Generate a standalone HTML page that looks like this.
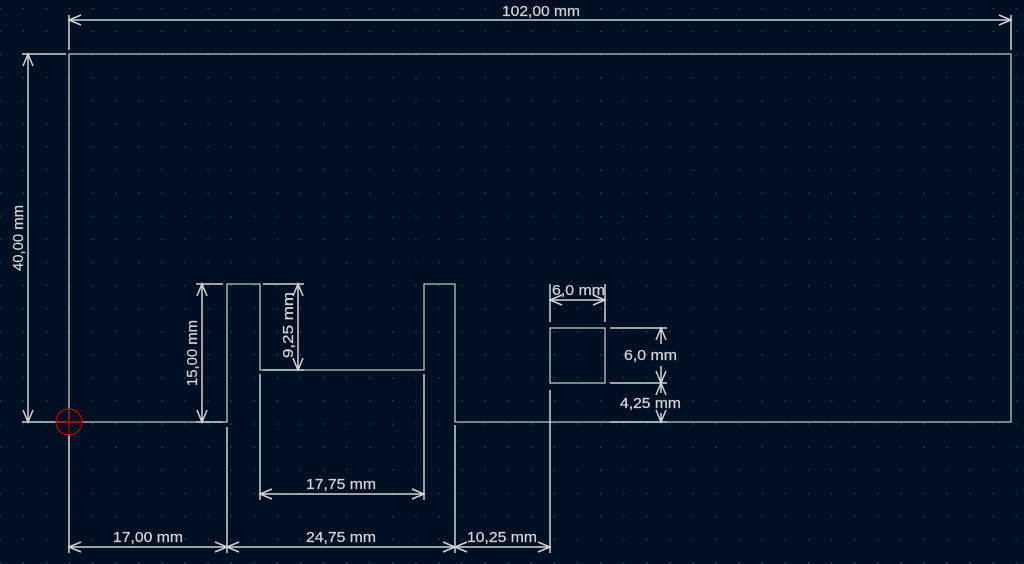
<!DOCTYPE html>
<html><head><meta charset="utf-8"><style>
html,body{margin:0;padding:0;background:#001023;}
svg{display:block}
text{font-family:"Liberation Sans",sans-serif;font-size:14.5px;fill:#d2d2d2;stroke:#d2d2d2;stroke-width:0.25px;}
</style></head><body>
<svg width="1024" height="564" viewBox="0 0 1024 564" xmlns="http://www.w3.org/2000/svg">
<defs>
<pattern id="g" x="69" y="54" width="23.09" height="23.09" patternUnits="userSpaceOnUse">
<rect x="0" y="0" width="1.2" height="1.2" fill="#4a5868"/>
</pattern>
</defs>
<rect width="1024" height="564" fill="#001023"/>
<rect width="1024" height="564" fill="url(#g)"/>
<g stroke="#c4c4c4" stroke-width="1.3" fill="none">
<polyline points="69,422 69,54 1011,54 1011,422 455,422 455,284 424,284 424,370 260,370 260,284 227,284 227,422 69,422"/>
<rect x="550" y="328" width="55" height="55"/>
</g>
<g stroke="#d2d2d2" stroke-width="1.5" fill="none">
<line x1="69" y1="20" x2="1011" y2="20"/>
<line x1="69" y1="15" x2="69" y2="50"/><line x1="1011" y1="15" x2="1011" y2="50"/>
<polyline points="81,15 69,20 81,25"/><polyline points="999,15 1011,20 999,25"/>
<line x1="28" y1="54" x2="28" y2="422"/>
<line x1="22" y1="54" x2="66" y2="54"/><line x1="22" y1="422" x2="66" y2="422"/>
<polyline points="23,66 28,54 33,66"/><polyline points="23,410 28,422 33,410"/>
<line x1="202" y1="284" x2="202" y2="422"/>
<line x1="196" y1="284" x2="223" y2="284"/><line x1="196" y1="422" x2="223" y2="422"/>
<polyline points="197,296 202,284 207,296"/><polyline points="197,410 202,422 207,410"/>
<line x1="298" y1="284" x2="298" y2="370"/>
<line x1="263" y1="284" x2="304" y2="284"/><line x1="263" y1="370" x2="304" y2="370"/>
<polyline points="293,296 298,284 303,296"/><polyline points="293,358 298,370 303,358"/>
<line x1="260" y1="494" x2="424" y2="494"/>
<line x1="260" y1="374" x2="260" y2="500"/><line x1="424" y1="374" x2="424" y2="500"/>
<polyline points="272,489 260,494 272,499"/><polyline points="412,489 424,494 412,499"/>
<line x1="69" y1="547" x2="550" y2="547"/>
<line x1="69" y1="434" x2="69" y2="553"/>
<line x1="227" y1="427" x2="227" y2="553"/>
<line x1="455" y1="425" x2="455" y2="553"/>
<line x1="550" y1="390" x2="550" y2="553"/>
<polyline points="81,542 69,547 81,552"/><polyline points="215,542 227,547 215,552"/>
<polyline points="239,542 227,547 239,552"/><polyline points="443,542 455,547 443,552"/>
<polyline points="467,542 455,547 467,552"/><polyline points="538,542 550,547 538,552"/>
<line x1="550" y1="300" x2="605" y2="300"/>
<line x1="550" y1="284" x2="550" y2="322"/><line x1="605" y1="284" x2="605" y2="322"/>
<polyline points="562,295 550,300 562,305"/><polyline points="593,295 605,300 593,305"/>
<line x1="661" y1="328" x2="661" y2="344"/><line x1="661" y1="366" x2="661" y2="383"/>
<line x1="661" y1="383" x2="661" y2="393"/><line x1="661" y1="413" x2="661" y2="422"/>
<line x1="610" y1="328" x2="667" y2="328"/><line x1="610" y1="383" x2="667" y2="383"/><line x1="610" y1="422" x2="667" y2="422"/>
<polyline points="656,340 661,328 666,340"/><polyline points="656,371 661,383 666,371"/>
<polyline points="656,395 661,383 666,395"/><polyline points="656,410 661,422 666,410"/>
</g>
<g stroke="#c00000" stroke-width="1.2" fill="none">
<circle cx="69" cy="422" r="13"/>
<line x1="56" y1="422" x2="82" y2="422"/><line x1="69" y1="409" x2="69" y2="435"/>
</g>
<g>
<text x="502" y="16" textLength="78" lengthAdjust="spacingAndGlyphs">102,00 mm</text>
<text transform="translate(23,238) rotate(-90)" x="-33" y="0" textLength="66" lengthAdjust="spacingAndGlyphs">40,00 mm</text>
<text transform="translate(197,353) rotate(-90)" x="-33" y="0" textLength="66" lengthAdjust="spacingAndGlyphs">15,00 mm</text>
<text transform="translate(293,325) rotate(-90)" x="-33" y="0" textLength="66" lengthAdjust="spacingAndGlyphs">9,25 mm</text>
<text x="306" y="489" textLength="70" lengthAdjust="spacingAndGlyphs">17,75 mm</text>
<text x="113" y="542" textLength="70" lengthAdjust="spacingAndGlyphs">17,00 mm</text>
<text x="306" y="542" textLength="70" lengthAdjust="spacingAndGlyphs">24,75 mm</text>
<text x="467" y="542" textLength="70" lengthAdjust="spacingAndGlyphs">10,25 mm</text>
<text x="552" y="295" textLength="53" lengthAdjust="spacingAndGlyphs">6,0 mm</text>
<text x="624" y="360" textLength="53" lengthAdjust="spacingAndGlyphs">6,0 mm</text>
<text x="620" y="408" textLength="61" lengthAdjust="spacingAndGlyphs">4,25 mm</text>
</g>
</svg>
</body></html>
